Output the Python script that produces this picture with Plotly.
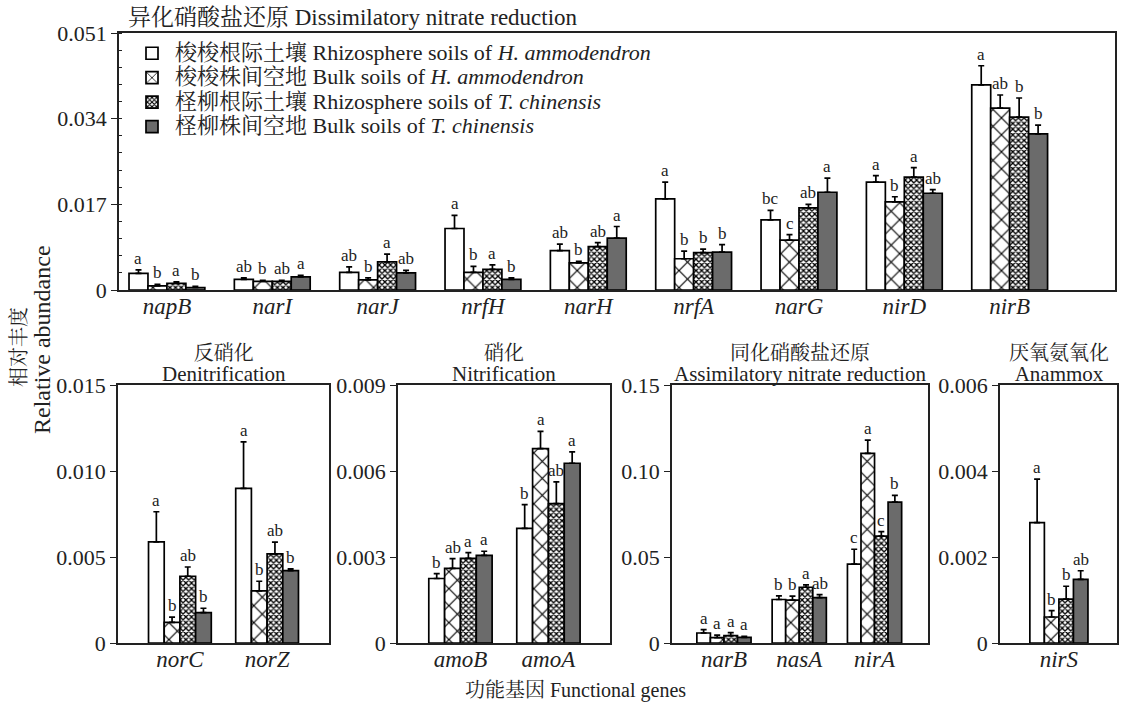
import plotly.graph_objects as go

# ---------------- data ----------------
series_names = [
    "梭梭根际土壤 Rhizosphere soils of <i>H. ammodendron</i>",
    "梭梭株间空地 Bulk soils of <i>H. ammodendron</i>",
    "柽柳根际土壤 Rhizosphere soils of <i>T. chinensis</i>",
    "柽柳株间空地 Bulk soils of <i>T. chinensis</i>",
]

# Dissimilatory nitrate reduction
dnr_genes = ["napB", "narI", "narJ", "nrfH", "narH", "nrfA", "narG", "nirD", "nirB"]
dnr_vals = [
    [0.0033, 0.0021, 0.0035, 0.0122, 0.0078, 0.0181, 0.0139, 0.0214, 0.0407],
    [0.0008, 0.0017, 0.0020, 0.0035, 0.0054, 0.0062, 0.0099, 0.0175, 0.0361],
    [0.0013, 0.0017, 0.0056, 0.0041, 0.0086, 0.0074, 0.0163, 0.0224, 0.0343],
    [0.0005, 0.0026, 0.0034, 0.0021, 0.0103, 0.0075, 0.0194, 0.0192, 0.0310],
]
dnr_err = [
    [0.0007, 0.0003, 0.0011, 0.0026, 0.0013, 0.0033, 0.0019, 0.0013, 0.0038],
    [0.0003, 0.0002, 0.0004, 0.0012, 0.0003, 0.0015, 0.0011, 0.0010, 0.0026],
    [0.0003, 0.0002, 0.0015, 0.0009, 0.0008, 0.0007, 0.0007, 0.0019, 0.0038],
    [0.0002, 0.0003, 0.0005, 0.0003, 0.0023, 0.0015, 0.0028, 0.0007, 0.0017],
]
dnr_letters = [
    ["a", "ab", "ab", "a", "ab", "a", "bc", "a", "a"],
    ["b", "b", "b", "b", "b", "b", "c", "b", "ab"],
    ["a", "ab", "a", "a", "ab", "b", "ab", "a", "b"],
    ["b", "a", "ab", "b", "a", "b", "a", "ab", "b"],
]
dnr_ticks = [0, 0.017, 0.034, 0.051]
dnr_ticktext = ["0", "0.017", "0.034", "0.051"]

# Denitrification
den_genes = ["norC", "norZ"]
den_vals = [[0.00588, 0.00899], [0.0012, 0.00303], [0.00388, 0.00518], [0.00177, 0.00421]]
den_err = [[0.00175, 0.0027], [0.0003, 0.00056], [0.00054, 0.00068], [0.00025, 0.0001]]
den_letters = [["a", "a"], ["b", "b"], ["ab", "ab"], ["b", "b"]]
den_ticks = [0, 0.005, 0.010, 0.015]
den_ticktext = ["0", "0.005", "0.010", "0.015"]

# Nitrification
nit_genes = ["amoB", "amoA"]
nit_vals = [[0.00225, 0.0040], [0.0026, 0.00678], [0.00295, 0.00486], [0.00306, 0.00627]]
nit_err = [[0.00017, 0.00083], [0.00034, 0.0006], [0.0002, 0.00076], [0.00014, 0.0004]]
nit_letters = [["b", "b"], ["ab", "a"], ["a", "ab"], ["a", "a"]]
nit_ticks = [0, 0.003, 0.006, 0.009]
nit_ticktext = ["0", "0.003", "0.006", "0.009"]

# Assimilatory nitrate reduction
anr_genes = ["narB", "nasA", "nirA"]
anr_vals = [[0.0058, 0.0253, 0.0458], [0.0031, 0.0249, 0.1102], [0.0043, 0.0324, 0.0621], [0.0033, 0.0264, 0.0819]]
anr_err = [[0.0020, 0.0021, 0.0087], [0.0015, 0.0023, 0.0078], [0.0017, 0.0014, 0.0027], [0.0005, 0.0017, 0.0039]]
anr_letters = [["a", "b", "c"], ["a", "b", "a"], ["a", "a", "c"], ["a", "ab", "b"]]
anr_ticks = [0, 0.05, 0.10, 0.15]
anr_ticktext = ["0", "0.05", "0.10", "0.15"]

# Anammox
ana_genes = ["nirS"]
ana_vals = [[0.0028], [0.000605], [0.00102], [0.00148]]
ana_err = [[0.00101], [0.00015], [0.0003], [0.0002]]
ana_letters = [["a"], ["b"], ["b"], ["ab"]]
ana_ticks = [0, 0.002, 0.004, 0.006]
ana_ticktext = ["0", "0.002", "0.004", "0.006"]

# ---------------- style ----------------
FONT = "Liberation Serif, Noto Serif CJK SC, Noto Sans CJK SC, serif"
TXT = "#222222"
W, H = 1125, 706
BARGAP = 0.28
fills = ["white", "white", "white", "#6b6b6b"]
patterns = [
    dict(shape=""),
    dict(shape="x", size=12, solidity=0.18, fgcolor="black", bgcolor="white", fillmode="replace"),
    dict(shape="x", size=4, solidity=0.55, fgcolor="black", bgcolor="white", fillmode="replace"),
    dict(shape=""),
]

def px_x(a, b):
    return [a / W, b / W]

def px_y(top, bottom):
    return [1 - bottom / H, 1 - top / H]

panels = [
    dict(genes=dnr_genes, vals=dnr_vals, err=dnr_err, letters=dnr_letters,
         ticks=dnr_ticks, ticktext=dnr_ticktext,
         xdom=px_x(119, 1115), ydom=px_y(33, 290), xr=[-0.455, 9.0], minor=0.0034),
    dict(genes=den_genes, vals=den_vals, err=den_err, letters=den_letters,
         ticks=den_ticks, ticktext=den_ticktext,
         xdom=px_x(118, 329), ydom=px_y(385, 643), xr=[-0.71, 1.71], minor=None),
    dict(genes=nit_genes, vals=nit_vals, err=nit_err, letters=nit_letters,
         ticks=nit_ticks, ticktext=nit_ticktext,
         xdom=px_x(398, 610), ydom=px_y(385, 643), xr=[-0.71, 1.70], minor=None),
    dict(genes=anr_genes, vals=anr_vals, err=anr_err, letters=anr_letters,
         ticks=anr_ticks, ticktext=anr_ticktext,
         xdom=px_x(672, 928), ydom=px_y(385, 643), xr=[-0.69, 2.71], minor=None),
    dict(genes=ana_genes, vals=ana_vals, err=ana_err, letters=ana_letters,
         ticks=ana_ticks, ticktext=ana_ticktext,
         xdom=px_x(1000, 1117), ydom=px_y(385, 643), xr=[-0.73, 0.72], minor=None),
]

fig = go.Figure()
annotations = []
group_w = 1 - BARGAP
bar_w = group_w / 4

for pi, p in enumerate(panels):
    sfx = "" if pi == 0 else str(pi + 1)
    xa, ya = "x" + sfx, "y" + sfx
    xs = list(range(len(p["genes"])))
    for si in range(4):
        fig.add_trace(go.Bar(
            x=xs, y=p["vals"][si],
            name='<span style="font-size:22px">' + series_names[si] + "</span>",
            xaxis=xa, yaxis=ya, showlegend=(pi == 0),
            legendgroup=str(si),
            marker=dict(color=fills[si], line=dict(color="black", width=1.7),
                        pattern=patterns[si]),
            error_y=dict(type="data", symmetric=False, array=p["err"][si],
                         arrayminus=[0] * len(xs), color="black",
                         thickness=1.7, width=3),
        ))
        off = -group_w / 2 + bar_w * (si + 0.5)
        for gi in xs:
            annotations.append(dict(
                x=gi + off, y=p["vals"][si][gi] + p["err"][si][gi],
                xref=xa, yref=ya, text=p["letters"][si][gi], showarrow=False,
                yanchor="bottom", yshift=0,
                font=dict(family=FONT, size=17, color=TXT)))
    xkey = "xaxis" + sfx
    ykey = "yaxis" + sfx
    fig.layout[xkey] = dict(
        domain=p["xdom"], anchor=ya, range=p["xr"],
        tickvals=xs, ticktext=["<i>" + g + "</i>" for g in p["genes"]],
        ticks="", ticklabelstandoff=-5, automargin=False,
        showline=True, linecolor=TXT, linewidth=1.7, mirror=True,
        showgrid=False, zeroline=False, fixedrange=True,
        tickfont=dict(family=FONT, size=23, color=TXT))
    ydict = dict(
        domain=p["ydom"], anchor=xa, range=[0, p["ticks"][-1]],
        tickvals=p["ticks"], ticktext=p["ticktext"], automargin=False,
        ticks="outside", ticklen=6, tickwidth=1.4, tickcolor=TXT,
        showline=True, linecolor=TXT, linewidth=1.7, mirror=True,
        showgrid=False, zeroline=False, fixedrange=True,
        tickfont=dict(family=FONT, size=22, color=TXT))
    if p["minor"]:
        ydict["minor"] = dict(dtick=p["minor"], ticks="inside", ticklen=3,
                              tickcolor=TXT, tickwidth=1)
    fig.layout[ykey] = ydict

# titles
annotations.append(dict(x=126 / W, y=1 - 17 / H, xref="paper", yref="paper",
                        text="异化硝酸盐还原 Dissimilatory nitrate reduction",
                        showarrow=False, xanchor="left", yanchor="middle",
                        font=dict(family=FONT, size=23, color=TXT)))
sub_titles = [("反硝化", "Denitrification"), ("硝化", "Nitrification"),
              ("同化硝酸盐还原", "Assimilatory nitrate reduction"),
              ("厌氧氨氧化", "Anammox")]
for (cn, en), p in zip(sub_titles, panels[1:]):
    cx = (p["xdom"][0] + p["xdom"][1]) / 2
    annotations.append(dict(
        x=cx, y=1 - 364 / H, xref="paper", yref="paper",
        text='<span style="font-size:20px">' + cn + '</span><br>'
             '<span style="font-size:21px">' + en + '</span>',
        showarrow=False, xanchor="center", yanchor="middle",
        font=dict(family=FONT, size=16, color=TXT)))

annotations.append(dict(x=19 / W, y=1 - 347 / H, xref="paper", yref="paper",
                        text="相对丰度", textangle=-90,
                        showarrow=False, xanchor="center", yanchor="middle",
                        font=dict(family=FONT, size=20, color=TXT)))
annotations.append(dict(x=42 / W, y=1 - 340 / H, xref="paper", yref="paper",
                        text="Relative abundance", textangle=-90,
                        showarrow=False, xanchor="center", yanchor="middle",
                        font=dict(family=FONT, size=24, color=TXT)))
annotations.append(dict(x=575 / W, y=1 - 690 / H, xref="paper", yref="paper",
                        text="功能基因 Functional genes",
                        showarrow=False, xanchor="center", yanchor="middle",
                        font=dict(family=FONT, size=20, color=TXT)))

fig.update_layout(
    width=W, height=H, autosize=False,
    margin=dict(l=0, r=0, t=0, b=0, pad=0, autoexpand=False),
    paper_bgcolor="white", plot_bgcolor="white",
    barmode="group", bargap=BARGAP, bargroupgap=0,
    font=dict(family=FONT, color=TXT),
    annotations=annotations,
    legend=dict(x=129 / W, y=1 - 36 / H, xanchor="left", yanchor="top",
                bgcolor="rgba(0,0,0,0)", tracegroupgap=0,
                font=dict(family=FONT, size=16.5, color=TXT),
                itemwidth=36),
)

post = ("document.body.style.margin='0';"
        "document.body.style.overflow='hidden';"
        "var d=document.getElementById('{plot_id}');"
        "d.style.position='fixed';d.style.left='0px';d.style.top='0px';")

fig.write_html("out.html", post_script=post,
               config={"displayModeBar": False, "responsive": False})
